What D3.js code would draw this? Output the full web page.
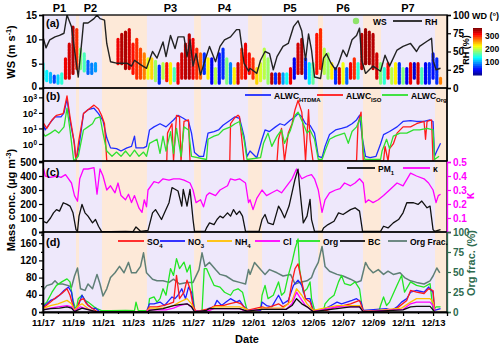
<!DOCTYPE html>
<html>
<head>
<meta charset="utf-8">
<script src="https://cdn.jsdelivr.net/npm/d3@7"></script>
<style>
body { margin: 0; background: #fff; }
text { font-family: "Liberation Sans", Arial, sans-serif; font-weight: bold; }
</style>
</head>
<body>
<div id="chart"></div>
<script>
// days since 11/17 00:00
const dateLabels = ["11/17","11/19","11/21","11/23","11/25","11/27","11/29","12/01","12/03","12/05","12/07","12/09","12/11","12/13"]
const periodNames = ["P1","P2","P3","P4","P5","P6","P7"]
const periodStart = [0, 2.4, 6.93, 10.53, 14.6, 18.67, 22.53]
const periodEnd = [2.2, 3.93, 10.07, 13.67, 18.33, 21.33, 26.13]

// [day, ws low, ws high, wind direction]
const wsRows = [
[0,1.8,5,140],[0.25,1.5,3.5,130],[0.5,1.2,3,110],[0.75,1.2,2.5,70],[1,1,2.5,120],[1.25,1,3,150],[1.5,2,6,320],[1.75,2,9,330],[2,3,12.5,340],[2.25,4,12,300],[2.5,4,8,180],[2.75,3.5,7,160],[3,3,5.5,80],[3.25,3,5,90],[3.5,3.5,5,100],
[5,5,10,320],[5.25,5,11,340],[5.5,4,11.5,345],[5.75,4,12,330],[6,3,9,310],[6.25,2,10,300],[6.5,2,8,290],[6.75,2,7,270],[7,2,6,220],[7.25,2,6,240],[7.5,1.5,5.5,190],[7.75,1,4.5,60],[8,2,5,200],[8.25,1.5,5,310],[8.5,1,5,230],[8.75,1.5,4,160],[9,1,5,320],[9.25,2,7,330],[9.5,2,9,340],[9.75,2,11,340],[10,2,10,320],[10.25,2,8,300],[10.5,2,7,280],[10.75,3,7,60],[11,2,6,230],[11.25,1,6,40],[11.5,1,4,200],[11.75,1,7,50],[12,2,8,60],[12.25,1,6,180],[12.5,1,5,90],[12.75,1,4,230],[13,1,5,330],[13.25,2,8,300],[13.5,2,9,320],[13.75,3,7,310],
[14,2,6,300],[14.25,1,4,240],[14.5,1.5,5,210],[14.75,2,8,200],[15,1,6,190],[15.25,1,3,340],[15.5,1,3,60],[15.75,1,3,330],[16,1,3,100],[16.25,1,3,140],[16.5,1,4,320],[16.75,2,6,40],[17,3,9,330],[17.25,3,10,345],[17.5,2,6,60],[17.75,1,5,130],[18,1,5,170],[18.25,3,11,310],[18.5,4,12,300],[18.75,3,8,200],[19,2,7,190],[19.25,2,5,230],[19.5,1,4,60],[19.75,1,4,330],[20,1,5,220],[20.25,1,4,80],[20.5,2,5,320],[20.75,2,6,300],[21,2,5,150],[21.25,4,11,340],[21.5,5,12,350],[21.75,5,11.5,345],[22,4,11,340],[22.25,2,7,330],[22.5,1,5,180],[22.75,1,4,150],[23,2,5,310],[23.25,1,4,200],[23.5,1,5,230],[23.75,1,5,60],[24,1,4,180],[24.25,1,4,40],[24.5,1,5,320],[24.75,2,5,30],[25,1,5,330],[25.25,1,4,160],[25.5,1,5,40],[25.75,1,5,60],[26,2,7,50],[26.25,1,6,60],[26.5,1,2,270]
]

const rh = [[0,70],[0.2,55],[0.45,66],[0.8,70],[1.1,72],[1.4,75],[1.6,100],[1.9,84],[2.1,52],[2.35,15],[2.6,67],[2.7,89],[3.0,89],[3.4,95],[3.6,100],[3.8,95],[4.1,93],[4.25,61],[4.5,36],[4.9,34],[5.6,34],[5.9,30],[6.1,38],[6.5,32],[6.9,27],[7.3,50],[7.6,41],[8.0,63],[8.2,43],[8.5,72],[8.8,54],[9.0,70],[9.4,70],[9.6,43],[9.8,66],[10.0,30],[10.2,47],[10.5,18],[10.8,38],[11.1,57],[11.5,36],[11.8,57],[12.1,66],[12.5,70],[12.9,80],[13.1,80],[13.4,34],[13.7,23],[13.8,27],[14.25,20],[14.5,38],[14.8,50],[15.1,47],[15.35,25],[15.6,43],[16.0,57],[16.35,61],[16.7,84],[17.0,92],[17.25,78],[17.5,38],[17.7,74],[17.9,52],[18.1,15],[18.5,13],[18.7,41],[18.9,47],[19.2,34],[19.5,25],[19.7,34],[20.0,52],[20.25,43],[20.6,66],[20.9,72],[21.1,82],[21.25,38],[21.5,20],[22.0,30],[22.5,23],[22.8,45],[23.1,30],[23.6,52],[24.0,57],[24.5,61],[24.9,50],[25.1,57],[25.6,64],[25.9,68],[26.0,38],[26.2,25],[26.5,27]]

// ALWC (ug m-3); 0.05 means below the axis
const alwcHtdma = [[0,20],[0.15,8],[0.5,25],[0.8,56],[1.2,56],[1.4,100],[1.6,800],[1.8,32],[2.1,1],[2.2,0.05],[2.4,0.7],[2.7,90],[3.0,160],[3.4,200],[3.7,90],[4.0,32],[4.25,2.5],[4.5,0.56],[4.9,0.5],[5.2,0.35],[5.6,0.56],[5.9,0.7],[6.1,3.2],[6.2,0.56],[6.7,0.56],[6.9,0.7],[7.1,8],[7.4,12.6],[7.8,20],[8.2,12.6],[8.7,35],[9.0,70],[9.35,45],[9.7,28],[9.9,5],[10.1,0.28],[10.4,0.16],[10.7,0.16],[11.0,5],[11.4,6.3],[11.7,8],[12.0,16],[12.5,35],[12.8,56],[13.1,45],[13.4,3.2],[13.6,0.16],[13.8,0.35],[14.25,0.13],[14.6,2],[14.8,8],[15.1,6.3],[15.5,12.6],[15.8,20],[16.1,16],[16.5,35],[16.8,56],[17.0,90],[17.25,56],[17.5,20],[17.8,16],[18.1,5],[18.35,0.16],[18.6,0.13],[18.8,0.7],[19.1,4],[19.5,8],[19.9,10],[20.25,12.6],[20.6,20],[20.9,35],[21.1,70],[21.3,2],[21.5,0.16],[21.8,0.13],[22.2,0.16],[22.5,1],[22.7,4],[23.1,6.3],[23.6,12.6],[24.0,28],[24.5,32],[24.9,28],[25.4,28],[25.8,35],[26.0,28],[26.1,0.16],[26.25,0.35],[26.5,1.1]]
const alwcIso = [[0,25],[0.25,10],[0.6,35],[0.9,70],[1.35,90],[1.6,1260],[1.8,56],[2.05,2],[2.2,0.05],[2.4,2],[2.7,90],[3.0,160],[3.4,316],[3.7,180],[3.9,70],[4.1,20],[4.25,0.05],[8.25,0.05],[8.3,5],[8.6,20],[8.7,0.05],[8.9,70],[9.1,56],[9.2,0.05],[9.4,28],[9.7,35],[9.8,0.05],[12.45,0.05],[12.5,20],[12.75,45],[13.0,70],[13.1,56],[13.4,0.05],[15.6,0.05],[15.7,2],[15.9,10],[16.1,0.05],[16.35,5],[16.6,20],[16.8,160],[17.0,630],[17.25,112],[17.4,3],[17.5,0.05],[17.7,160],[17.8,2],[18.0,0.05],[20.9,0.05],[21.0,20],[21.2,112],[21.35,0.05],[22.7,0.05],[22.8,0.7],[23.0,0.05],[23.1,0.5],[23.35,1],[23.6,5],[24.0,12.6],[24.5,12.6],[24.9,20],[25.4,28],[25.5,2],[25.6,28],[25.9,35],[26.0,0.05]]
const alwcOrg = [[0,5],[0.15,3.2],[0.5,5],[0.8,8],[1.05,5],[1.4,12.6],[1.6,200],[1.8,8],[2.05,0.05],[2.35,0.16],[2.7,8],[3.0,12.6],[3.3,20],[3.5,45],[3.8,56],[4.0,5],[4.25,0.35],[4.6,0.16],[4.9,0.3],[5.2,0.16],[5.5,0.35],[5.8,0.16],[6.1,0.4],[6.4,0.16],[6.7,0.3],[6.9,0.16],[7.1,1.1],[7.6,2],[7.8,0.25],[8.0,3.2],[8.2,0.35],[8.5,6.3],[8.7,0.25],[8.9,10],[9.2,0.16],[9.4,12.6],[9.7,8],[9.9,0.16],[10.9,0.1],[11.0,2],[11.4,3.2],[11.7,4],[12.0,8],[12.5,12.6],[12.8,20],[13.1,28],[13.4,2],[13.6,0.1],[14.5,0.13],[14.7,1.1],[15.0,5],[15.25,0.7],[15.6,3.2],[15.9,8],[16.1,1.1],[16.5,8],[16.8,70],[17.0,112],[17.35,20],[17.6,5],[17.8,8],[18.1,2],[18.35,0.1],[18.6,0.1],[18.8,0.35],[19.1,2],[19.5,3.2],[19.8,4],[20.1,5],[20.35,1.1],[20.6,6.3],[20.9,12.6],[21.2,56],[21.35,0.35],[21.45,0.1],[22.5,0.1],[22.6,0.35],[22.9,2],[23.1,0.5],[23.35,3.2],[23.8,5],[24.25,5],[24.7,8],[25.1,8],[25.6,10],[26.0,8],[26.1,0.1],[26.4,0.16]]

const pm1 = [[0,77],[0.25,65],[0.5,100],[0.7,137],[0.9,160],[1.1,149],[1.35,209],[1.6,197],[1.8,185],[2.0,137],[2.2,17],[2.3,5],[2.4,113],[2.6,197],[2.8,137],[3.0,113],[3.3,65],[3.5,89],[3.7,41],[3.9,5],[4.5,3],[5.5,5],[6.0,3],[6.2,36],[6.5,5],[7.0,12],[7.3,137],[7.5,160],[7.7,125],[7.9,89],[8.1,137],[8.4,209],[8.6,317],[8.8,305],[9.0,293],[9.25,185],[9.35,305],[9.6,185],[9.8,305],[10.0,89],[10.1,5],[10.8,5],[10.9,29],[11.1,65],[11.4,53],[11.6,89],[11.8,113],[12.0,101],[12.3,137],[12.5,113],[12.7,160],[12.9,125],[13.1,149],[13.3,113],[13.5,5],[14.4,5],[14.6,89],[14.8,125],[15.0,65],[15.35,53],[15.7,185],[15.9,149],[16.1,101],[16.4,185],[16.6,281],[16.8,377],[17.0,449],[17.1,329],[17.35,65],[17.6,113],[17.8,233],[17.9,89],[18.1,5],[18.6,5],[18.7,29],[19.0,53],[19.4,77],[19.7,137],[20.0,125],[20.5,160],[20.8,173],[21.1,149],[21.3,5],[22.5,5],[22.7,41],[23.0,29],[23.35,65],[23.7,89],[24.0,137],[24.25,209],[24.7,209],[25.0,197],[25.25,221],[25.6,173],[25.8,185],[26.0,17],[26.1,5],[26.5,17]]
const kappa = [[0,0.47],[0.15,0.40],[0.5,0.39],[0.9,0.40],[1.2,0.39],[1.5,0.41],[1.9,0.35],[2.1,0.26],[2.3,0.22],[2.45,0.38],[2.7,0.45],[3.0,0.45],[3.4,0.46],[3.6,0.27],[3.8,0.45],[4.0,0.40],[4.25,0.30],[4.5,0.33],[4.8,0.28],[5.0,0.35],[5.2,0.26],[5.5,0.23],[5.7,0.27],[5.9,0.21],[6.1,0.26],[6.4,0.17],[6.6,0.14],[6.75,0.23],[6.9,0.18],[7.0,0.30],[7.4,0.36],[7.7,0.35],[8.0,0.38],[8.4,0.37],[8.7,0.38],[9.1,0.38],[9.4,0.37],[9.8,0.35],[10.0,0.30],[10.2,0.21],[10.5,0.23],[10.7,0.18],[10.9,0.26],[11.1,0.28],[11.5,0.26],[11.8,0.30],[12.3,0.33],[12.5,0.38],[12.8,0.37],[13.1,0.38],[13.5,0.35],[13.7,0.21],[13.8,0.23],[14.0,0.16],[14.25,0.24],[14.6,0.30],[14.9,0.26],[15.25,0.28],[15.6,0.30],[15.9,0.28],[16.25,0.33],[16.6,0.38],[16.9,0.45],[17.25,0.38],[17.6,0.40],[17.9,0.41],[18.1,0.38],[18.35,0.30],[18.6,0.14],[18.8,0.23],[19.1,0.28],[19.5,0.30],[19.8,0.31],[20.1,0.35],[20.5,0.33],[20.8,0.35],[21.1,0.38],[21.35,0.35],[21.5,0.21],[21.7,0.23],[22.0,0.21],[22.35,0.23],[22.7,0.26],[23.1,0.30],[23.6,0.35],[24.0,0.33],[24.5,0.42],[24.9,0.40],[25.4,0.38],[25.7,0.35],[26.0,0.30],[26.2,0.21],[26.35,0.26],[26.5,0.27]]

const so4 = [[0,9],[0.5,23],[0.9,35],[1.25,43],[1.6,54],[1.8,39],[2.05,8],[2.2,2],[2.45,27],[2.7,31],[2.9,19],[3.3,8],[3.6,1],[6.9,1],[7.1,12],[7.6,12],[8.0,15],[8.4,19],[8.7,23],[8.9,85],[9.1,31],[9.4,46],[9.6,74],[9.8,54],[10.0,15],[10.2,1],[11.1,8],[11.5,15],[12.0,15],[12.4,19],[12.9,23],[13.2,19],[13.6,4],[14.6,12],[14.9,9],[15.7,19],[16.0,12],[16.35,19],[16.6,70],[16.8,101],[17.0,112],[17.25,70],[17.5,31],[17.8,23],[18.0,4],[18.9,4],[19.6,12],[20.0,15],[20.5,19],[20.8,23],[21.1,27],[21.35,2],[23.0,2],[23.6,9],[24.25,27],[24.5,50],[24.9,46],[25.4,43],[25.7,54],[26.0,50],[26.1,4]]
const no3 = [[0,12],[0.25,19],[0.5,27],[0.8,31],[1.1,39],[1.4,50],[1.7,58],[1.9,46],[2.05,12],[2.2,2],[2.4,19],[2.6,39],[2.8,27],[3.0,15],[3.3,8],[3.5,9],[3.75,1],[6.9,1],[7.1,19],[7.4,19],[7.8,23],[8.1,15],[8.4,27],[8.6,35],[8.8,31],[9.0,39],[9.25,54],[9.5,31],[9.7,58],[9.9,46],[10.1,4],[10.9,1],[11.0,8],[11.4,12],[11.6,27],[11.9,15],[12.2,23],[12.5,31],[12.9,23],[13.1,27],[13.4,12],[13.7,4],[14.5,4],[14.6,23],[14.9,15],[15.25,12],[15.7,39],[16.0,19],[16.35,27],[16.7,62],[17.0,74],[17.25,62],[17.5,31],[17.8,31],[18.0,4],[18.7,4],[18.8,8],[19.2,15],[19.6,23],[19.9,19],[20.25,23],[20.6,27],[20.9,31],[21.2,23],[21.35,4],[22.9,8],[23.25,4],[23.6,12],[23.9,23],[24.25,31],[24.5,46],[24.9,50],[25.4,46],[25.7,58],[26.0,46],[26.1,4],[26.5,8]]
const nh4 = [[0,8],[0.5,15],[1.0,19],[1.6,27],[1.9,19],[2.1,4],[2.4,15],[2.6,19],[3.0,8],[3.4,1],[6.9,1],[7.1,9],[8.0,9],[8.7,15],[9.1,23],[9.6,31],[9.9,19],[10.1,1],[11.1,4],[11.4,12],[12.6,12],[13.1,12],[13.5,8],[13.8,1],[14.6,9],[16.0,9],[16.6,27],[16.9,54],[17.25,39],[17.6,19],[18.0,4],[19.6,15],[21.1,15],[21.35,1],[23.9,9],[24.5,23],[24.9,31],[25.8,31],[26.0,23],[26.1,2]]
const cl = [[0,5],[0.5,9],[1.0,12],[1.6,15],[1.9,12],[2.1,2],[2.5,12],[3.1,5],[3.4,1],[6.9,1],[7.1,5],[8.2,5],[8.7,9],[9.1,15],[9.6,19],[9.9,12],[10.1,1],[11.1,4],[11.4,8],[13.1,8],[13.5,2],[14.6,6],[16.2,6],[16.6,19],[16.9,46],[17.1,35],[17.5,15],[18.0,1],[19.6,12],[21.1,12],[21.35,1],[24.0,6],[24.5,19],[24.9,23],[25.8,23],[26.0,15],[26.1,2]]
const bc = [[0,5],[0.5,8],[1.1,9],[1.6,12],[1.9,9],[2.1,1],[2.6,9],[3.2,4],[3.6,0.5],[7.0,0.5],[7.1,4],[8.0,8],[8.7,15],[9.1,17],[9.6,19],[9.9,12],[10.1,0.5],[10.9,4],[11.1,8],[13.1,8],[13.6,2],[14.6,6],[16.2,6],[16.6,15],[16.9,31],[17.25,19],[17.6,12],[18.0,1],[19.6,8],[20.5,12],[21.1,12],[21.35,0.5],[24.0,5],[24.5,12],[24.9,13],[25.8,13],[26.0,5],[26.1,1]]
const org = [[0,15],[0.25,23],[0.6,46],[0.9,62],[1.25,70],[1.6,77],[1.8,70],[2.0,27],[2.2,4],[2.35,31],[2.6,39],[2.8,27],[3.0,23],[3.4,12],[3.6,8],[3.9,3],[4.5,3],[5.5,4],[6.1,3],[6.2,23],[6.35,3],[7.0,3],[7.1,31],[7.4,35],[7.6,23],[7.8,31],[8.0,54],[8.2,39],[8.5,101],[8.7,85],[8.9,124],[9.1,101],[9.4,116],[9.6,93],[9.8,109],[9.95,54],[10.1,4],[10.4,2],[10.6,3],[10.75,101],[10.9,101],[11.1,85],[11.4,62],[11.8,58],[12.1,46],[12.5,39],[12.7,50],[13.0,54],[13.3,46],[13.6,4],[14.5,3],[14.6,39],[14.8,62],[15.0,31],[15.35,39],[15.7,70],[15.9,39],[16.1,46],[16.35,85],[16.6,116],[16.8,147],[17.0,170],[17.1,101],[17.35,46],[17.6,54],[17.8,70],[17.9,31],[18.1,4],[18.7,3],[18.8,19],[19.1,31],[19.4,39],[19.7,70],[19.9,85],[20.1,66],[20.5,62],[20.8,70],[21.1,54],[21.3,4],[22.4,3],[22.5,15],[22.7,35],[22.9,15],[23.1,23],[23.6,62],[23.9,85],[24.1,46],[24.5,70],[24.9,62],[25.4,58],[25.8,66],[26.0,4],[26.2,12],[26.5,12]]
const orgFrac = [[0,27],[0.25,33],[0.6,35],[0.8,39],[1.0,35],[1.3,35],[1.7,33],[1.9,31],[2.1,45],[2.3,55],[2.5,29],[2.8,27],[3.0,35],[3.3,29],[3.6,47],[3.8,35],[4.0,20],[4.25,29],[4.5,43],[4.8,49],[5.1,57],[5.4,49],[5.7,62],[5.9,49],[6.2,49],[6.5,57],[6.7,74],[6.9,49],[7.3,41],[7.6,39],[8.0,39],[8.4,37],[8.7,41],[9.1,35],[9.6,37],[10.0,37],[10.4,53],[10.6,74],[10.8,57],[11.1,62],[11.5,53],[11.8,47],[12.2,45],[12.7,39],[13.1,37],[13.5,35],[13.7,53],[13.8,47],[14.1,62],[14.5,53],[14.8,47],[15.1,53],[15.6,49],[16.0,45],[16.5,47],[16.8,35],[17.1,37],[17.6,39],[17.9,43],[18.1,53],[18.35,62],[18.6,82],[18.8,57],[19.1,51],[19.6,47],[20.0,45],[20.5,41],[20.9,37],[21.2,39],[21.5,62],[21.7,55],[22.0,49],[22.35,53],[22.7,47],[23.0,51],[23.35,47],[23.8,49],[24.1,43],[24.5,39],[24.9,37],[25.4,35],[25.8,39],[26.0,45],[26.25,55],[26.45,49]]

const W = 500, H = 347
const left = 43, right = 447
const pa = [15, 88], pb = [88, 161], pc = [161, 232], pd = [232, 312]

const svg = d3.select('#chart').append('svg')
    .attr('width', W)
    .attr('height', H)

const x = d3.scaleLinear().domain([0, 26.93]).range([left, right])
const yWS = d3.scaleLinear().domain([0, 15]).range([pa[1], pa[0]])
const yRH = d3.scaleLinear().domain([0, 100]).range([pa[1], pa[0]])
const yAL = d3.scaleLog().domain([0.08, 4000]).range([pb[1], pb[0]]).clamp(true)
const yPM = d3.scaleLinear().domain([0, 500]).range([pc[1], pc[0] + 1])
const yK = d3.scaleLinear().domain([0, 0.5]).range([pc[1], pc[0] + 1])
const yM = d3.scaleLinear().domain([0, 186]).range([pd[1], pd[0]])
const yF = d3.scaleLinear().domain([0, 100]).range([pd[1], pd[0]])

const jet = d3.scaleLinear()
    .domain([0, 45, 135, 225, 315, 360])
    .range(["#00007f", "#0000ff", "#00ffff", "#ffff00", "#ff0000", "#7f0000"])

// period shading
const bands = []
periodStart.forEach((s, i) => {
    bands.push({ a: s, b: periodEnd[i], c: '#eee8fb' })
    const next = i + 1 < periodStart.length ? periodStart[i + 1] : 26.93
    bands.push({ a: periodEnd[i], b: next, c: '#fde9d8' })
})
svg.append('g').selectAll('rect').data(bands).enter()
    .append('rect')
        .attr('x', d => x(d.a))
        .attr('width', d => x(d.b) - x(d.a))
        .attr('y', pa[0])
        .attr('height', pd[1] - pa[0])
        .attr('fill', d => d.c)

svg.append('g').selectAll('text').data(periodNames).enter()
    .append('text')
        .attr('x', (d, i) => x((periodStart[i] + periodEnd[i]) / 2))
        .attr('y', 12)
        .attr('text-anchor', 'middle')
        .attr('font-size', 11)
        .text(d => d)

const clip = (id, p) => {
    svg.append('clipPath').attr('id', id)
        .append('rect').attr('x', left).attr('y', p[0]).attr('width', right - left).attr('height', p[1] - p[0])
}
clip('ca', pa); clip('cb', pb); clip('cc', pc); clip('cd', pd)

const lineOf = (ys) => d3.line().x(d => x(d[0])).y(d => ys(d[1]))
const drawLine = (g, data, ys, color, w) => g.append('path')
    .datum(data)
    .attr('d', lineOf(ys))
    .attr('fill', 'none')
    .attr('stroke', color)
    .attr('stroke-width', w || 1.3)
    .attr('stroke-linejoin', 'round')

// (a) wind speed coloured by direction, RH
const ga = svg.append('g').attr('clip-path', 'url(#ca)')
ga.selectAll('line').data(wsRows).enter()
    .append('line')
        .attr('x1', d => x(d[0]))
        .attr('x2', d => x(d[0]))
        .attr('y1', d => yWS(d[1]))
        .attr('y2', d => yWS(d[2]))
        .attr('stroke', d => jet(d[3]))
        .attr('stroke-width', 3.2)
        .attr('stroke-dasharray', '2.6,0.8')
        .attr('stroke-linecap', 'round')
drawLine(ga, rh, yRH, '#222', 1.4)

// (b) ALWC
const gb = svg.append('g').attr('clip-path', 'url(#cb)')
drawLine(gb, alwcHtdma, yAL, '#1f2dff')
drawLine(gb, alwcIso, yAL, '#ff1a1a')
drawLine(gb, alwcOrg, yAL, '#2fe02f')

// (c) PM1 and kappa
const gc = svg.append('g').attr('clip-path', 'url(#cc)')
drawLine(gc, kappa, yK, '#ff00ff')
drawLine(gc, pm1, yPM, '#111')

// (d) species
const gd = svg.append('g').attr('clip-path', 'url(#cd)')
drawLine(gd, orgFrac, yF, '#5f7f76', 1.5)
drawLine(gd, org, yM, '#22e622')
drawLine(gd, no3, yM, '#1f1fff')
drawLine(gd, so4, yM, '#ff1a1a')
drawLine(gd, nh4, yM, '#ffc000')
drawLine(gd, cl, yM, '#ff00ff')
drawLine(gd, bc, yM, '#111')

// panel frames
;[pa, pb, pc, pd].forEach(p => {
    svg.append('rect')
        .attr('x', left).attr('y', p[0])
        .attr('width', right - left).attr('height', p[1] - p[0])
        .attr('fill', 'none').attr('stroke', '#000').attr('stroke-width', 1.3)
})

const styleAxis = (g, color, size) => {
    g.selectAll('.domain').attr('stroke', color).attr('stroke-width', 1.3)
    g.selectAll('.tick line').attr('stroke', color).attr('stroke-width', 1.2)
    g.selectAll('.tick text').attr('fill', color).attr('font-size', size || 10)
        .style('font-family', '"Liberation Sans", Arial, sans-serif').style('font-weight', 'bold')
    return g
}

// left axes
const axA = styleAxis(svg.append('g').attr('transform', `translate(${left},0)`)
    .call(d3.axisLeft(yWS).tickValues([0, 5, 10, 15]).tickSize(4).tickPadding(2)), '#000')
axA.selectAll('.tick text').filter(d => d === 0).attr('dy', '0.1em')
const axB = svg.append('g').attr('transform', `translate(${left},0)`)
    .call(d3.axisLeft(yAL).tickValues([1, 10, 100, 1000]).tickSize(4).tickPadding(2).tickFormat(''))
styleAxis(axB, '#000')
axB.selectAll('.tick').each(function (d) {
    const t = d3.select(this).append('text')
        .attr('x', -6).attr('dy', '0.4em').attr('text-anchor', 'end')
        .attr('font-size', 9.5).attr('fill', '#000')
    t.append('tspan').text('10')
    t.append('tspan').attr('font-size', 6.5).attr('dy', '-0.45em').text(Math.round(Math.log10(d)))
})
styleAxis(svg.append('g').attr('transform', `translate(${left},0)`)
    .call(d3.axisLeft(yPM).tickValues([0, 100, 200, 300, 400, 500]).tickSize(4).tickPadding(2)), '#000')
styleAxis(svg.append('g').attr('transform', `translate(${left},0)`)
    .call(d3.axisLeft(yM).tickValues([0, 40, 80, 120, 160]).tickSize(4).tickPadding(2)), '#000')
styleAxis(svg.append('g').attr('transform', `translate(${left},0)`)
    .call(d3.axisLeft(yM).tickValues([20, 60, 100, 140, 180]).tickSize(2).tickFormat('')), '#000')

// right axes
styleAxis(svg.append('g').attr('transform', `translate(${right},0)`)
    .call(d3.axisRight(yRH).tickValues([0, 25, 50, 75, 100]).tickSize(4).tickPadding(2)), '#000')
svg.append('line').attr('x1', right).attr('x2', right).attr('y1', pb[0]).attr('y2', pb[1])
    .attr('stroke', '#000').attr('stroke-width', 1.3)
styleAxis(svg.append('g').attr('transform', `translate(${right},0)`)
    .call(d3.axisRight(yK).tickValues([0.1, 0.2, 0.3, 0.4, 0.5]).tickSize(4).tickPadding(2).tickFormat(d3.format('.1f'))), '#ff00ff')
styleAxis(svg.append('g').attr('transform', `translate(${right},0)`)
    .call(d3.axisRight(yF).tickValues([0, 25, 50, 75, 100]).tickSize(4).tickPadding(2)), '#2e6b4f')

// bottom axis
const xa = svg.append('g').attr('transform', `translate(0,${pd[1]})`)
    .call(d3.axisBottom(x).tickValues(d3.range(0, 27, 2)).tickSize(4).tickPadding(3)
        .tickFormat((d, i) => dateLabels[i]))
styleAxis(xa, '#000', 9.5)
styleAxis(svg.append('g').attr('transform', `translate(0,${pd[1]})`)
    .call(d3.axisBottom(x).tickValues(d3.range(1, 27, 2)).tickSize(2).tickFormat('')), '#000')
svg.append('text').attr('x', 247).attr('y', 343).attr('text-anchor', 'middle')
    .attr('font-size', 11).text('Date')

// axis titles
const vtitle = (xp, yp, parts, color, size) => {
    const t = svg.append('text')
        .attr('transform', `translate(${xp},${yp}) rotate(-90)`)
        .attr('text-anchor', 'middle')
        .attr('font-size', size)
        .attr('fill', color)
    parts.forEach(p => {
        const s = t.append('tspan').text(p[0])
        if (p[1] === 'sup') s.attr('font-size', size * 0.65).attr('dy', -size * 0.4)
        if (p[1] === 'back') s.attr('dy', size * 0.4)
    })
}
vtitle(15, 52, [['WS (m s'], ['-1', 'sup'], [')', 'back']], '#000', 11)
vtitle(15, 200, [['Mass conc. (μg m'], ['-3', 'sup'], [')', 'back']], '#000', 11)
vtitle(469, 50, [['RH (%)']], '#000', 9)
vtitle(474, 196, [['κ']], '#ff00ff', 12)
vtitle(475, 263, [['Org frac. (%)']], '#2e6b4f', 11)

// panel labels
;[['(a)', 27], ['(b)', 100], ['(c)', 176], ['(d)', 246]].forEach(l => {
    svg.append('text').attr('x', 46).attr('y', l[1]).attr('font-size', 11).text(l[0])
})

// WD colour bar
const cb = d3.scaleLinear().domain([0, 360]).range([75, 28])
svg.append('g').selectAll('rect').data(d3.range(0, 360, 5)).enter()
    .append('rect')
        .attr('x', 473).attr('width', 9)
        .attr('y', d => cb(d + 5)).attr('height', d => cb(d) - cb(d + 5) + 0.5)
        .attr('fill', d => jet(d + 2.5))
svg.append('g').selectAll('text').data([100, 200, 300]).enter()
    .append('text')
        .attr('x', 485).attr('y', d => cb(d) + 3)
        .attr('font-size', 8.5).text(d => d)
svg.append('text').attr('x', 472).attr('y', 19).attr('font-size', 9).text('WD (°)')

// legends
const legLine = (x1, y, color, label, sub, w) => {
    svg.append('line').attr('x1', x1).attr('x2', x1 + (w || 26)).attr('y1', y).attr('y2', y)
        .attr('stroke', color).attr('stroke-width', 1.8)
    const t = svg.append('text').attr('x', x1 + (w || 26) + 3).attr('y', y + 3.5).attr('font-size', 8.5)
    t.append('tspan').text(label)
    if (sub) t.append('tspan').attr('font-size', 6).attr('dy', 3).text(sub)
}
svg.append('circle').attr('cx', 356).attr('cy', 21).attr('r', 3.2).attr('fill', '#8fe36b')
svg.append('text').attr('x', 373).attr('y', 24.5).attr('font-size', 8.5).text('WS')
legLine(393, 21, '#222', 'RH', null, 29)

legLine(245, 95, '#1f2dff', 'ALWC', 'HTDMA')
legLine(317, 95, '#ff1a1a', 'ALWC', 'ISO')
legLine(382, 95, '#2fe02f', 'ALWC', 'Org')

legLine(347, 168, '#111', 'PM', '1', 28)
legLine(403, 168, '#ff00ff', 'κ', null, 27)

legLine(118, 241, '#ff1a1a', 'SO', '4')
legLine(160, 241, '#1f1fff', 'NO', '3', 25)
legLine(207, 241, '#ffc000', 'NH', '4', 25)
legLine(255, 241, '#ff00ff', 'Cl', null, 25)
legLine(296, 241, '#22e622', 'Org', null, 24)
legLine(340, 241, '#111', 'BC', null, 25)
legLine(388, 241, '#5f7f76', 'Org Frac.', null, 19)
</script>
</body>
</html>
